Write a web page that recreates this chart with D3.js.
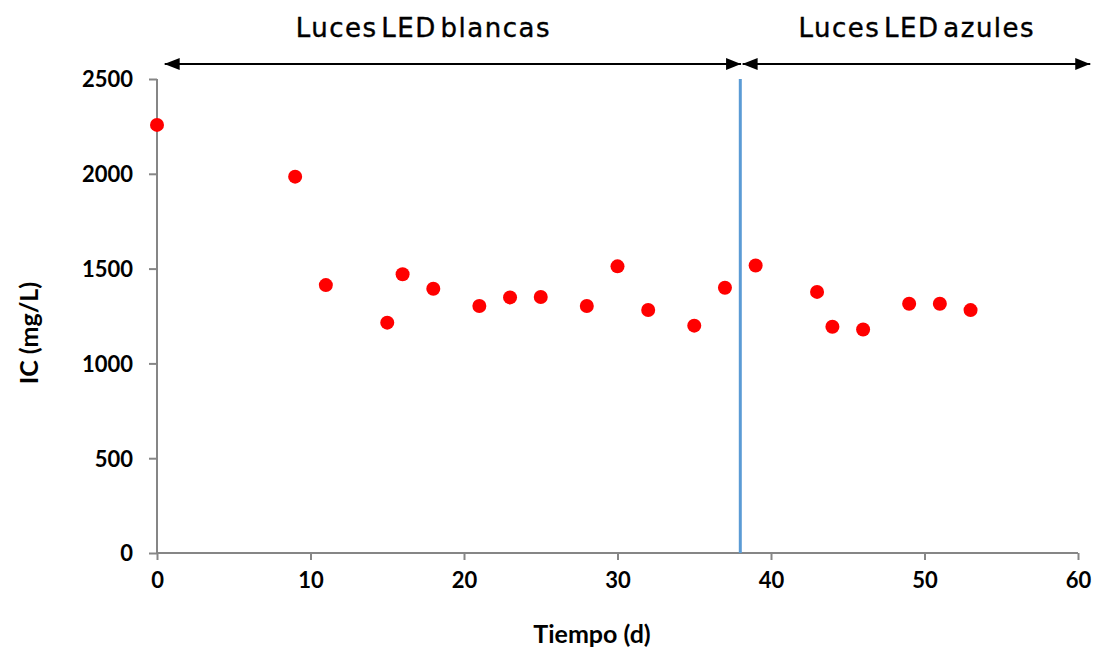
<!DOCTYPE html>
<html>
<head>
<meta charset="utf-8">
<script src="https://cdn.jsdelivr.net/npm/d3@7"></script>
<style>
  body { margin: 0; background: #fff; }
  svg { display: block; }
  .tick text { font-family: Lato, "Open Sans", sans-serif; font-weight: bold; font-size: 22px; fill: #000; }
  .axis-title { font-family: Lato, "Open Sans", sans-serif; font-weight: bold; font-size: 25px; fill: #000; }
  .period { font-family: "DejaVu Sans", sans-serif; font-size: 26px; fill: #000; stroke: #000; stroke-width: 0.4px; letter-spacing: 1.5px; word-spacing: -6px; }
</style>
</head>
<body>
<div class="chart"></div>
<script>
// days and inorganic carbon (mg/L)
var days = [0, 9, 11, 15, 16, 18, 21, 23, 25, 28, 30, 32, 35, 37, 39, 43, 44, 46, 49, 51, 53];
var icValues = [2258, 1985, 1413, 1215, 1470, 1394, 1303, 1348, 1350, 1303, 1512, 1282, 1199, 1399, 1516, 1377, 1193, 1179, 1315, 1315, 1281];

var xTicks = [0, 10, 20, 30, 40, 50, 60];
var yTicks = [0, 500, 1000, 1500, 2000, 2500];

var switchDay = 38;
var periodLabels = ['Luces LED blancas', 'Luces LED azules'];
var periodStarts = [0.5, 38.15];
var periodEnds = [38.05, 60.8];
var periodLabelAt = [17.35, 49.5];

function init() {
  var width = 1099,
      height = 657,
      margin = {top: 79, right: 21, bottom: 104, left: 157};

  var svg = d3.select('.chart')
    .append('svg')
      .attr('width', width)
      .attr('height', height);

  var x = d3.scaleLinear().domain([0, 60]).range([margin.left, width - margin.right]);
  var y = d3.scaleLinear().domain([0, 2500]).range([height - margin.bottom, margin.top]);

  var axisColor = '#868686';

  var yAxis = svg.append('g')
      .attr('transform', 'translate(' + margin.left + ',0)')
      .call(d3.axisLeft(y).tickValues(yTicks).tickFormat(d3.format('d')).tickSize(8).tickPadding(16));
  var xAxis = svg.append('g')
      .attr('transform', 'translate(0,' + (height - margin.bottom) + ')')
      .call(d3.axisBottom(x).tickValues(xTicks).tickSize(7).tickPadding(12));

  [xAxis, yAxis].forEach(function(a) {
    a.select('.domain').attr('stroke', axisColor).attr('stroke-width', 2);
    a.selectAll('.tick line').attr('stroke', axisColor).attr('stroke-width', 2);
  });
  yAxis.select('.domain').attr('d', 'M0,' + y(2500) + 'V' + y(0));
  xAxis.select('.domain').attr('d', 'M' + x(0) + ',0H' + x(60));
  yAxis.selectAll('.tick text').attr('dy', '0.36em');

  // switch line
  svg.append('line')
      .attr('x1', x(switchDay)).attr('x2', x(switchDay))
      .attr('y1', y(2500)).attr('y2', y(0))
      .attr('stroke', '#5b9bd5')
      .attr('stroke-width', 3);

  // points
  svg.selectAll('circle.pt')
    .data(days)
    .enter().append('circle')
      .attr('class', 'pt')
      .attr('cx', function(d) { return x(d); })
      .attr('cy', function(d, i) { return y(icValues[i]); })
      .attr('r', 7)
      .attr('fill', '#ff0000');

  // arrows
  var defs = svg.append('defs');
  defs.append('marker')
      .attr('id', 'head')
      .attr('viewBox', '0 0 15 12')
      .attr('refX', 15).attr('refY', 6)
      .attr('markerWidth', 15).attr('markerHeight', 12)
      .attr('markerUnits', 'userSpaceOnUse')
      .attr('orient', 'auto-start-reverse')
    .append('path')
      .attr('d', 'M0,0L15,6L0,12Z')
      .attr('fill', '#000');

  var arrowY = 64;
  periodLabels.forEach(function(label, i) {
    svg.append('line')
        .attr('x1', x(periodStarts[i])).attr('x2', x(periodEnds[i]))
        .attr('y1', arrowY).attr('y2', arrowY)
        .attr('stroke', '#000')
        .attr('stroke-width', 2)
        .attr('marker-start', 'url(#head)')
        .attr('marker-end', 'url(#head)');
    svg.append('text')
        .attr('class', 'period')
        .attr('x', x(periodLabelAt[i]))
        .attr('y', 37)
        .attr('text-anchor', 'middle')
        .text(label);
  });

  svg.append('text')
      .attr('class', 'axis-title')
      .attr('x', 592).attr('y', 643)
      .attr('text-anchor', 'middle')
      .text('Tiempo (d)');

  svg.append('text')
      .attr('class', 'axis-title')
      .attr('transform', 'translate(38,333) rotate(-90)')
      .attr('text-anchor', 'middle')
      .text('IC (mg/L)');
}

d3.select(window).on('load', init);
</script>
</body>
</html>
